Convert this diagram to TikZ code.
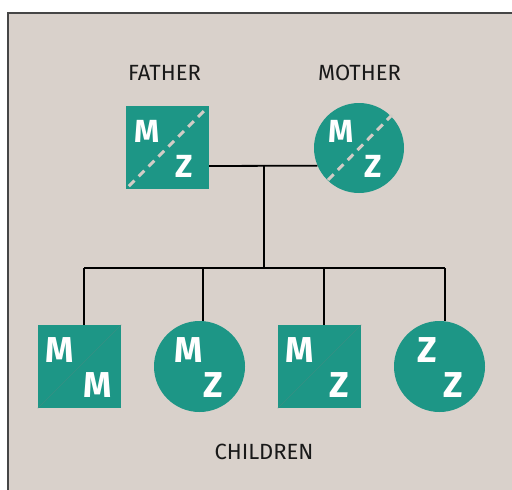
\documentclass[tikz,border=0pt]{standalone}
\usepackage{fontspec}
\setmainfont{Fira Sans}
\definecolor{tealA}{RGB}{29,150,134}
\definecolor{bgA}{RGB}{217,209,203}
\definecolor{dashA}{RGB}{210,204,198}
\definecolor{frameA}{RGB}{70,70,70}
\begin{document}
\begin{tikzpicture}[x=1pt,y=-1pt,
  sqbox/.style={rectangle,fill=tealA,minimum size=83pt,inner sep=0pt},
  circbox/.style={circle,fill=tealA,minimum size=90pt,inner sep=0pt},
  letp/.style={text=white,font=\fontsize{32}{32}\selectfont\bfseries,inner sep=0pt},
  letc/.style={text=white,font=\fontsize{36}{36}\selectfont\bfseries,inner sep=0pt},
  lbl/.style={text=black!90,font=\fontsize{22}{22}\selectfont,inner sep=0pt},
  conn/.style={draw=black,line width=1.8pt},
  dashdiag/.style={draw=dashA,line width=3pt,dash pattern=on 8pt off 6pt},
  thindiag/.style={draw=tealA!75!gray,line width=0.6pt}]
\useasboundingbox (0,0) rectangle (512,490);
\draw[fill=bgA,draw=frameA,line width=1.5pt] (8,13) rectangle (530,510);

% labels
\node[lbl] (lf) at (164.5,72.5) {FATHER};
\node[lbl] (lm) at (359.5,72.5) {MOTHER};
\node[lbl] (lc) at (264,452) {CHILDREN};

% parents
\node[sqbox] (father) at (167.5,147.5) {};
\draw[dashdiag] ([shift={(3,-3)}]father.south west) -- ([shift={(-2,2)}]father.north east);
\node[letp] (fM) at (147,131) {M};
\node[letp] (fZ) at (184,166) {Z};

\node[circbox] (mother) at (359,148) {};
\draw[dashdiag] ([shift={(-31,32)}]mother.center) -- ([shift={(33,-33)}]mother.center);
\node[letp] (mM) at (341,131) {M};
\node[letp] (mZ) at (373,166) {Z};

% children
\node[sqbox] (c1) at (79.5,366.5) {};
\draw[thindiag] (c1.south west) -- (c1.north east);
\node[letc] (c1a) at (60,350.5) {M};
\node[letc] (c1b) at (98,385) {M};

\node[circbox,minimum size=91pt] (c2) at (199.5,366.5) {};
\node[letc] (c2a) at (188.5,350.5) {M};
\node[letc] (c2b) at (213.5,385) {Z};

\node[sqbox] (c3) at (319.5,366.5) {};
\draw[thindiag] (c3.south west) -- (c3.north east);
\node[letc] (c3a) at (300,350.5) {M};
\node[letc] (c3b) at (339,385) {Z};

\node[circbox,minimum size=91pt] (c4) at (439.5,366.5) {};
\node[letc] (c4a) at (427,350.5) {Z};
\node[letc] (c4b) at (453.5,385) {Z};

% connectors
\coordinate (j) at (264,166);
\coordinate (b) at (264,268);
\coordinate (t1) at (84,268);
\coordinate (t2) at (203,268);
\coordinate (t3) at (324,268);
\coordinate (t4) at (445,268);
\draw[conn] (father.east |- j) -- (mother.203.6);
\draw[conn] (j) -- (b);
\draw[conn] (t1) -- (t4);
\draw[conn] (t1) -- (t1 |- c1.north);
\draw[conn] (t2) -- (t2 |- c2.north);
\draw[conn] (t3) -- (t3 |- c3.north);
\draw[conn] (t4) -- (t4 |- c4.north);
\end{tikzpicture}
\end{document}
